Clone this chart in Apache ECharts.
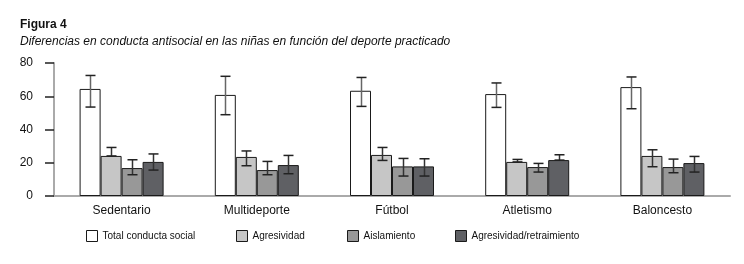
<!DOCTYPE html>
<html>
<head>
<meta charset="utf-8">
<script src="https://cdn.jsdelivr.net/npm/echarts@6/dist/echarts.min.js"></script>
<style>
  html, body { margin: 0; padding: 0; background: #fff; }
  #chart { width: 744px; height: 264px; }
</style>
</head>
<body>
<div id="chart"></div>
<script>
// data
const categories = ['Sedentario', 'Multideporte', 'Fútbol', 'Atletismo', 'Baloncesto'];
const seriesNames = ['Total conducta social', 'Agresividad', 'Aislamiento', 'Agresividad/retraimiento'];

const totalMean = [64.4, 60.8, 63.3, 61.3, 65.5];
const agresMean = [24.1, 23.5, 24.7, 20.5, 24.1];
const aislMean  = [16.8, 15.6, 17.8, 17.4, 17.4];
const retrMean  = [20.5, 18.6, 17.8, 21.6, 19.8];

const totalHigh = [72.5, 72.0, 71.3, 68.0, 71.6];
const totalLow  = [53.5, 48.9, 53.9, 53.3, 52.5];
const agresHigh = [29.2, 27.1, 29.2, 22.0, 27.8];
const agresLow  = [24.1, 18.2, 21.4, 20.5, 17.6];
const aislHigh  = [21.8, 20.8, 22.6, 19.6, 22.2];
const aislLow   = [12.8, 12.8, 12.0, 14.4, 14.0];
const retrHigh  = [25.3, 24.4, 22.4, 24.8, 23.8];
const retrLow   = [15.6, 13.4, 12.0, 21.6, 14.4];

const yTicks = [0, 20, 40, 60, 80];

const means = [totalMean, agresMean, aislMean, retrMean];
const highs = [totalHigh, agresHigh, aislHigh, retrHigh];
const lows  = [totalLow, agresLow, aislLow, retrLow];
const colors = ['#ffffff', '#c6c6c6', '#989898', '#5f6064'];

const BAR_W = 21;
const FONT = '"Liberation Sans", Arial, sans-serif';
// left edge of each legend box
const legendLeft = [86, 236, 347, 455];

let chart = echarts.init(document.getElementById('chart'));

let barSeries = means.map((vals, i) => ({
  name: seriesNames[i],
  type: 'bar',
  data: vals,
  barWidth: BAR_W,
  barGap: 0,
  itemStyle: { color: colors[i], borderColor: '#1a1a1a', borderWidth: 1 },
  z: 2
}));

let errSeries = means.map((vals, i) => ({
  type: 'custom',
  data: categories.map((c, k) => [k, lows[i][k], highs[i][k]]),
  z: 3,
  silent: true,
  renderItem: function (params, api) {
    let hi = api.coord([api.value(0), api.value(2)]);
    let lo = api.coord([api.value(0), api.value(1)]);
    let x = Math.round(hi[0] + (i - 1.5) * BAR_W) + 0.5;
    let cap = 5;
    let capStyle = { stroke: '#222', lineWidth: 1.5 };
    return {
      type: 'group',
      children: [
        { type: 'line', shape: { x1: x, y1: hi[1], x2: x, y2: lo[1] }, style: { stroke: i === 0 ? '#666' : '#333', lineWidth: 1.5 } },
        { type: 'line', shape: { x1: x - cap, y1: hi[1], x2: x + cap, y2: hi[1] }, style: capStyle },
        { type: 'line', shape: { x1: x - cap, y1: lo[1], x2: x + cap, y2: lo[1] }, style: capStyle }
      ]
    };
  }
}));

let legends = seriesNames.map((name, i) => ({
  data: [name],
  left: legendLeft[i] - 5,
  top: 225,
  itemWidth: 11,
  itemHeight: 11,
  icon: 'rect',
  textStyle: { fontSize: 10, color: '#111', fontFamily: FONT },
  itemStyle: { borderColor: '#1a1a1a', borderWidth: 1 }
}));

chart.setOption({
  animation: false,
  textStyle: { fontFamily: FONT },
  title: [
    { text: 'Figura 4', left: 15, top: 14, textStyle: { fontSize: 12, fontWeight: 'bold', color: '#111', fontFamily: FONT } },
    { text: 'Diferencias en conducta antisocial en las niñas en función del deporte practicado', left: 15, top: 31,
      textStyle: { fontSize: 12, fontStyle: 'italic', fontWeight: 'normal', color: '#111', fontFamily: FONT } }
  ],
  legend: legends,
  grid: { left: 54, right: 14, top: 63, bottom: 68 },
  xAxis: {
    type: 'category',
    data: categories,
    axisLine: { lineStyle: { color: '#aaa', width: 2 } },
    axisTick: { show: false },
    axisLabel: { fontSize: 12, color: '#111', margin: 9 }
  },
  yAxis: {
    type: 'value',
    min: yTicks[0],
    max: yTicks[yTicks.length - 1],
    interval: 20,
    splitLine: { show: false },
    axisLine: { show: true, lineStyle: { color: '#aaa', width: 2 } },
    axisTick: { show: true, length: 9, lineStyle: { color: '#222', width: 1.5 } },
    axisLabel: { fontSize: 12, color: '#111', margin: 21 }
  },
  series: barSeries.concat(errSeries)
});
</script>
</body>
</html>
